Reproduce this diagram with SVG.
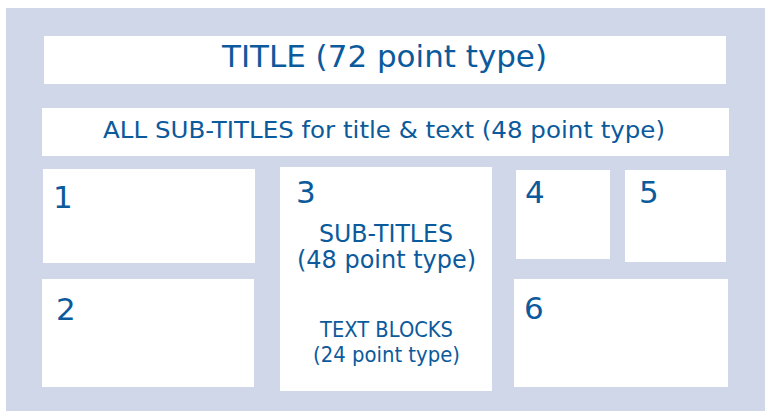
<svg xmlns="http://www.w3.org/2000/svg" width="765" height="411" viewBox="0 0 765 411">
<style>
.bg{fill:#cfd7e9}
.box{fill:#ffffff}
text{font-family:"DejaVu Sans","Noto Sans",sans-serif;fill:#0b5a9c}
.num{font-size:31px}
</style>
<rect class="bg" x="6" y="8" width="759" height="403"/>
<g id="title">
<rect class="box" x="44" y="36" width="682" height="48"/>
<text x="222" y="67.3" font-size="30.5" textLength="325" lengthAdjust="spacingAndGlyphs">TITLE (72 point type)</text>
</g>
<g id="subtitle">
<rect class="box" x="42" y="108" width="687" height="48"/>
<text x="103" y="138.3" font-size="23" textLength="562" lengthAdjust="spacingAndGlyphs">ALL SUB-TITLES for title &amp; text (48 point type)</text>
</g>
<g id="box1">
<rect class="box" x="43" y="169" width="212" height="94"/>
<text class="num" x="53" y="207.5">1</text>
</g>
<g id="box2">
<rect class="box" x="42" y="279" width="212" height="108"/>
<text class="num" x="56" y="320">2</text>
</g>
<g id="box3">
<rect class="box" x="280" y="167" width="212" height="224"/>
<text class="num" x="296" y="202.7">3</text>
<text x="319" y="242.3" font-size="24.5" textLength="134" lengthAdjust="spacingAndGlyphs">SUB-TITLES</text>
<text x="297" y="268" font-size="24.5" textLength="179" lengthAdjust="spacingAndGlyphs">(48 point type)</text>
<text x="320" y="336.7" font-size="20.5" textLength="133" lengthAdjust="spacingAndGlyphs">TEXT BLOCKS</text>
<text x="313" y="361.7" font-size="20.5" textLength="147" lengthAdjust="spacingAndGlyphs">(24 point type)</text>
</g>
<g id="box4">
<rect class="box" x="516" y="170" width="94" height="89"/>
<text class="num" x="525" y="203.3">4</text>
</g>
<g id="box5">
<rect class="box" x="625" y="170" width="101" height="92"/>
<text class="num" x="639" y="203.3">5</text>
</g>
<g id="box6">
<rect class="box" x="514" y="279" width="214" height="108"/>
<text class="num" x="524" y="319">6</text>
</g>
<g id="connectors"/>
</svg>
